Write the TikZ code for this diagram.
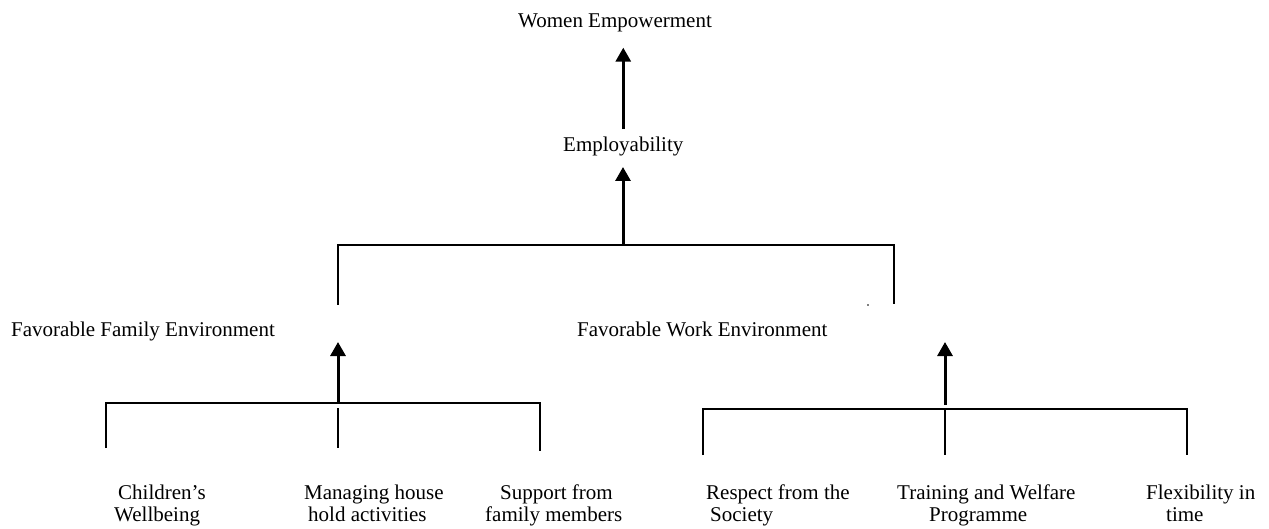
\documentclass[tikz,border=0pt]{standalone}
\usepackage{fontspec}
\setmainfont{Liberation Serif}
\usetikzlibrary{arrows.meta}
\begin{document}
\begin{tikzpicture}[x=1pt,y=-1pt,
  lbl/.style={inner sep=0pt, anchor=base west, font=\fontsize{21}{22}\selectfont},
  arr/.style={line width=3pt, -{Triangle[length=14pt,width=15pt]}},
  brk/.style={line width=2pt}]
\useasboundingbox (0,0) rectangle (1269,529);

% texts
\node[lbl] (we)  at (518,28)  {Women Empowerment};
\node[lbl] (emp) at (563,152) {Employability};
\node[lbl] (ffe) at (11,337)  {Favorable Family Environment};
\node[lbl] (fwe) at (577,337) {Favorable Work Environment};

\node[lbl] (cw1) at (118,499) {Children’s};
\node[lbl] (cw2) at (114,521) {Wellbeing};
\node[lbl] (mh1) at (304,499) {Managing house};
\node[lbl] (mh2) at (308,521) {hold activities};
\node[lbl] (sf1) at (500,499) {Support from};
\node[lbl] (sf2) at (485,521) {family members};
\node[lbl] (rs1) at (706,499) {Respect from the};
\node[lbl] (rs2) at (710,521) {Society};
\node[lbl] (tw1) at (897,499) {Training and Welfare};
\node[lbl] (tw2) at (929,521) {Programme};
\node[lbl] (fx1) at (1146,499) {Flexibility in};
\node[lbl] (fx2) at (1166,521) {time};

% coordinates
\coordinate (tA) at (623,245);
\coordinate (tL) at (338,245);
\coordinate (tR) at (894,245);
\coordinate (tLb) at (338,305);
\coordinate (tRb) at (894,304);
\coordinate (tip2) at (623,167);

\coordinate (lM) at (338,403);
\coordinate (lL) at (106,403);
\coordinate (lR) at (540,403);
\coordinate (lLb) at (106,448);
\coordinate (lMt) at (338,408);
\coordinate (lMb) at (338,448);
\coordinate (lRb) at (540,451);
\coordinate (tip3) at (338,342);

\coordinate (rM) at (945,409);
\coordinate (rMs) at (945,405);
\coordinate (rL) at (703,409);
\coordinate (rR) at (1187,409);
\coordinate (rLb) at (703,455);
\coordinate (rMb) at (945,455);
\coordinate (rRb) at (1187,455);
\coordinate (tip4) at (945,342);

% arrows
\draw[arr] ([yshift=8pt]emp.north) -- ([yshift=-15pt]emp.north |- we.south);
\draw[arr] (tA) -- (tip2);
\draw[arr] (lM) -- (tip3);
\draw[arr] (rMs) -- (tip4);

% brackets
\draw[brk] (tLb) -- (tL) -- (tR) -- (tRb);
\draw[brk] (lLb) -- (lL) -- (lR) -- (lRb);
\draw[brk] (lMt) -- (lMb);
\draw[brk] (rLb) -- (rL) -- (rR) -- (rRb);
\draw[brk] (rM) -- (rMb);

% small stray dot
\fill[gray] (867,304) rectangle (869,306);
\end{tikzpicture}
\end{document}
